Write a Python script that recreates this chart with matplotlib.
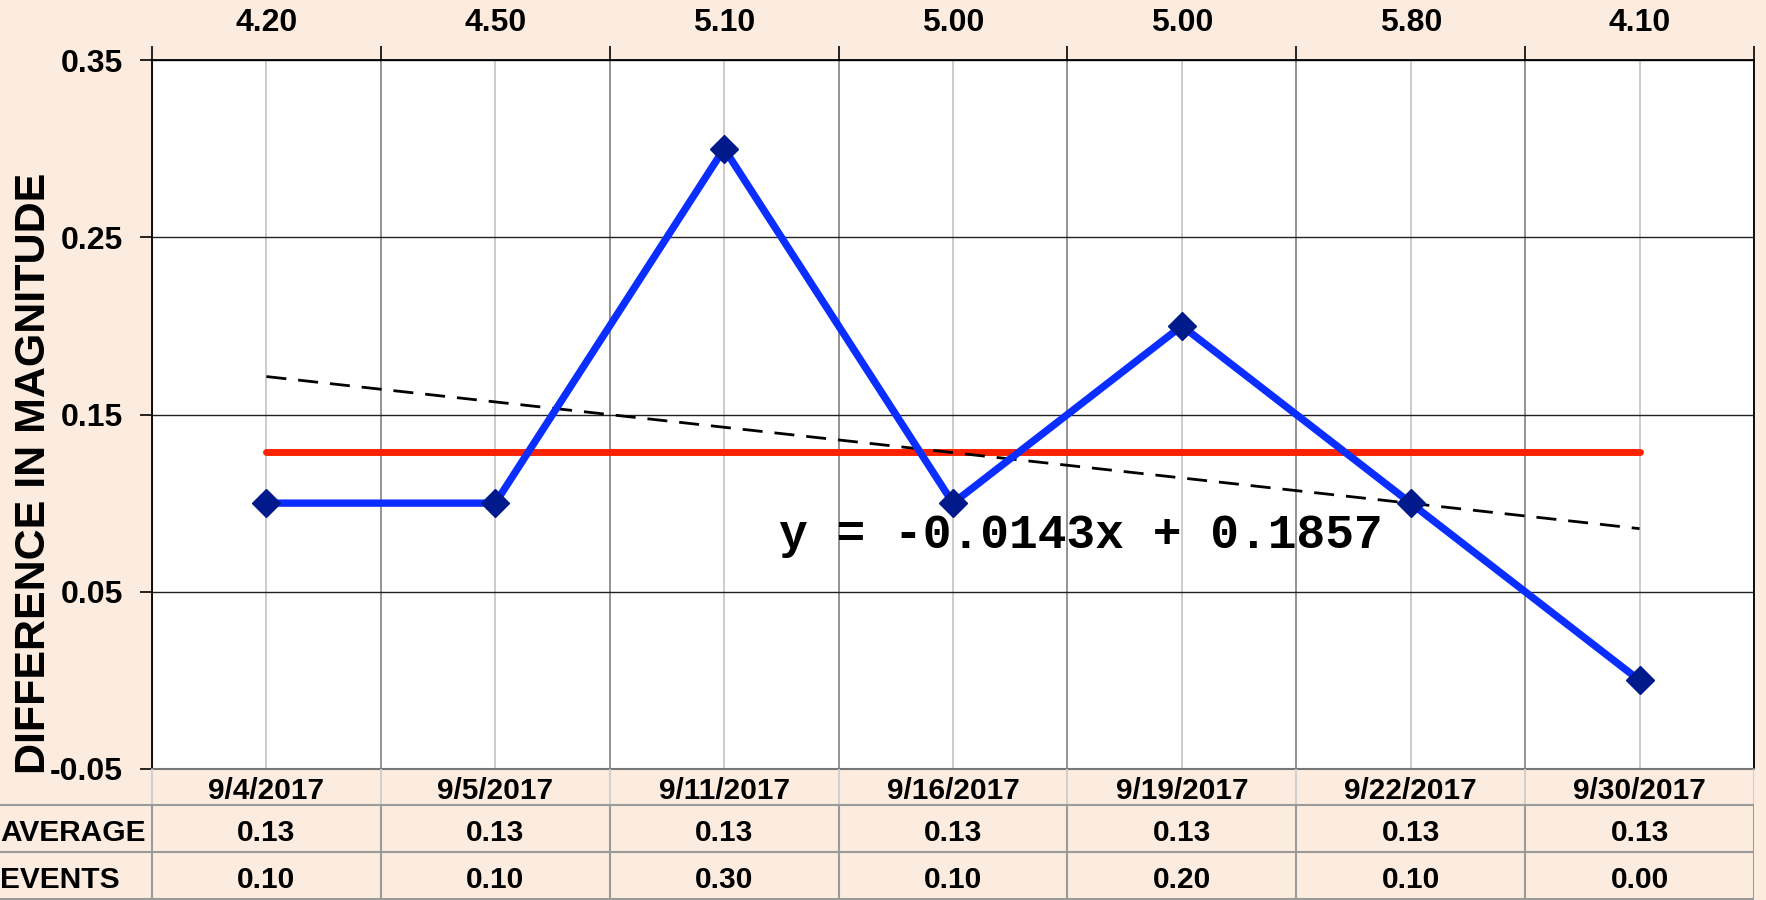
import numpy as np
import matplotlib.pyplot as plt

# datos del grafico
dates = ['9/4/2017', '9/5/2017', '9/11/2017', '9/16/2017', '9/19/2017', '9/22/2017', '9/30/2017']
magnitudes = [4.20, 4.50, 5.10, 5.00, 5.00, 5.80, 4.10]
events = [0.10, 0.10, 0.30, 0.10, 0.20, 0.10, 0.00]
average = [0.1286, 0.1286, 0.1286, 0.1286, 0.1286, 0.1286, 0.1286]
trend_slope = -0.0143
trend_intercept = 0.1857
y_ticks = [-0.05, 0.05, 0.15, 0.25, 0.35]

bg = '#FCECE0'
W, H = 1766, 900
left, right, top, bottom = 152, 1754, 60, 769
n = len(dates)
col_px = (right - left) / n

plt.rcParams['font.family'] = ['Liberation Sans', 'DejaVu Sans']
plt.rcParams['font.weight'] = 'bold'

fig = plt.figure(figsize=(W / 100, H / 100), dpi=100, facecolor=bg)
ax = fig.add_axes([left / W, 1 - bottom / H, (right - left) / W, (bottom - top) / H])
ax.set_facecolor('white')

x = np.arange(n)
ax.set_xlim(-0.5, n - 0.5)
ax.set_ylim(-0.05, 0.35)

# lineas
ax.plot(x, average, color='#FF2200', lw=5, solid_capstyle='round', zorder=3)
trend = trend_slope * (x + 1) + trend_intercept
ax.plot(x, trend, color='black', lw=2, dashes=(7.2, 4.3), zorder=4)
ax.plot(x, events, color='#0A2EFF', lw=5.3, marker='D', markersize=14,
        markerfacecolor='#001A8C', markeredgecolor='#001A8C', zorder=5)

ax.text(2.24, 0.082, 'y = -0.0143x + 0.1857', family='Liberation Mono',
        fontsize=34.5, fontweight='bold', va='center', ha='left', zorder=6)

# ejes y grilla
ax.set_xticks(np.arange(-0.5, n, 1.0))
ax.set_xticks(x, minor=True)
ax.set_xticklabels([f'{m:.2f}' for m in magnitudes], minor=True)
ax.tick_params(axis='x', which='major', top=True, bottom=False, labelbottom=False,
               labeltop=False, length=10, width=1.2, direction='out')
ax.tick_params(axis='x', which='minor', top=True, bottom=False, labelbottom=False,
               labeltop=True, length=0, pad=16, labelsize=23)
ax.set_yticks(y_ticks)
ax.set_yticklabels([f'{v:.2f}' for v in y_ticks])
ax.tick_params(axis='y', length=9, width=1.2, pad=12, labelsize=23)
ax.grid(axis='x', which='major', color='#8a8a8a', lw=1.3)
ax.grid(axis='x', which='minor', color='#c8c8c8', lw=1.3)
ax.grid(axis='y', which='major', color='#222222', lw=1.0)
ax.set_axisbelow(True)
for s in ['left', 'top', 'right']:
    ax.spines[s].set_color('black')
    ax.spines[s].set_linewidth(1.3)
ax.spines['bottom'].set_color('#777777')
ax.spines['bottom'].set_linewidth(1.5)

fig.text(34 / W, 1 - 473 / H, 'DIFFERENCE IN MAGNITUDE', rotation=90,
         fontsize=31, fontweight='bold', ha='center', va='center')

# tabla de abajo
tax = fig.add_axes([0, 0, right / W, (H - bottom) / H])
tax.set_xlim(-0.5 - left / col_px, n - 0.5)
tax.set_ylim(0, H - bottom)
tax.axis('off')
x0 = tax.get_xlim()[0]
for yy in [95, 48, 1]:
    tax.plot([x0, n - 0.5], [yy, yy], color='#9a9a9a', lw=1.5)
for b in np.arange(-0.5, n, 1.0):
    tax.plot([b, b], [95, H - bottom], color='#d0d0d0', lw=1.5)
    tax.plot([b, b], [0, 95], color='#9a9a9a', lw=1.5)

fs = 21.5
for i in range(n):
    tax.text(i, 109, dates[i], ha='center', va='center', fontsize=fs, fontweight='bold')
    tax.text(i, 67, f'{average[i]:.2f}', ha='center', va='center', fontsize=fs, fontweight='bold')
    tax.text(i, 20, f'{events[i]:.2f}', ha='center', va='center', fontsize=fs, fontweight='bold')
tax.text(x0, 67, 'AVERAGE', ha='left', va='center', fontsize=fs, fontweight='bold')
tax.text(x0, 20, 'EVENTS', ha='left', va='center', fontsize=fs, fontweight='bold')

fig.savefig('out.png', dpi=100, facecolor=bg)
